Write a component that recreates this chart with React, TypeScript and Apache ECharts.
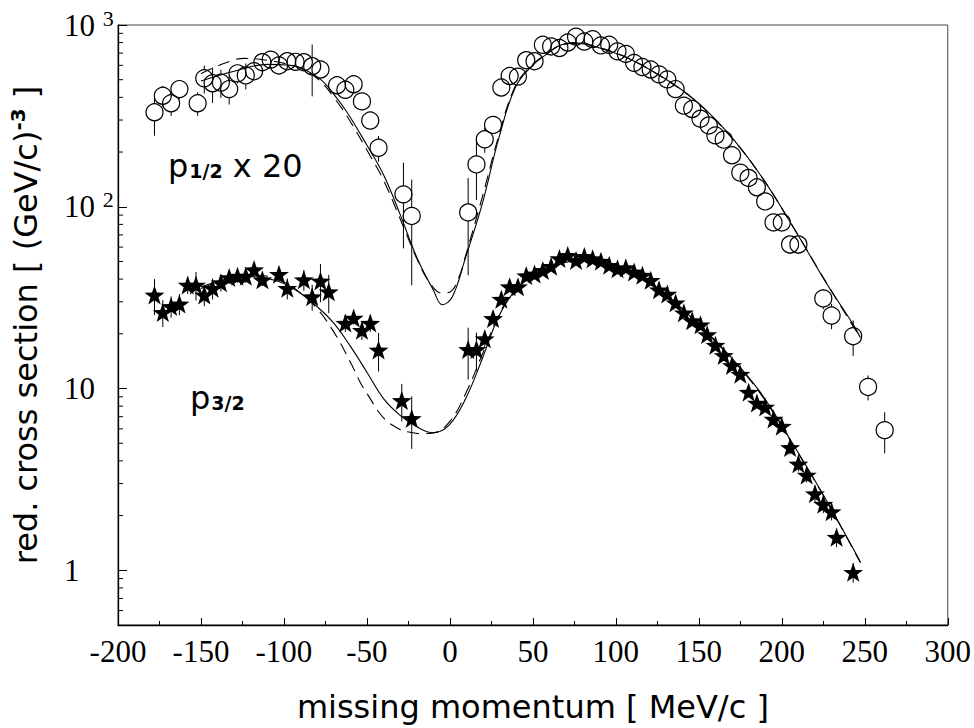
import React, { useEffect, useRef } from "react";
import * as echarts from "echarts";

// ---- p1/2 x 20 data (open circles)
const circX = [-178, -173, -168, -163, -152, -148, -143, -138, -133, -128, -123, -118, -113, -108, -103, -98, -93, -88, -83, -78, -68, -63, -58, -53, -48, -43, -28, -23,
  11, 16, 21, 26, 31, 36, 41, 46, 51, 56, 61, 66, 71, 76, 81, 86, 91, 96, 101, 106, 111, 116, 121, 126, 131, 136, 141, 146, 151, 156, 160, 165, 170, 175, 180, 185, 190, 195, 200, 205, 210, 225, 230, 243, 252, 262];
const circY = [331, 408, 371, 444, 371, 509, 478, 482, 444, 542, 528, 557, 624, 645, 599, 632, 627, 624, 593, 569, 466, 440, 472, 380, 298, 211, 117, 89,
  93, 171, 235, 282, 453, 524, 520, 640, 632, 778, 762, 747, 801, 863, 811, 836, 772, 778, 716, 693, 619, 587, 569, 535, 502, 444, 360, 345, 305, 280, 247, 234, 192, 154, 144, 128, 107, 82, 82, 62, 62, 31.3, 25.2, 19.4, 10.2, 5.9];
const circE = [85, 54, 55, 53, 55, 90, 106, 85, 79, 64, 86, 58, 74, 59, 63, 49, 49, 49, 188, 52, 49, 46, 37, 30, 31, 34, 58, 52,
  51, 62, 37, 30, 36, 40, 40, 45, 45, 50, 50, 50, 50, 50, 50, 50, 45, 45, 42, 40, 36, 34, 33, 30, 30, 26, 22, 21, 19, 18, 16, 15, 13, 11, 10, 9, 8, 9, 9, 7, 7, 4, 4, 4.3, 1.6, 1.5];

// ---- p3/2 data (stars)
const starX = [-178, -173, -168, -163, -158, -153, -148, -143, -138, -133, -128, -123, -118, -113, -103, -98, -88, -83, -78, -73, -63, -58, -53, -48, -43, -29, -23,
  11, 16, 21, 26, 31, 36, 41, 46, 51, 56, 61, 66, 71, 76, 81, 86, 91, 96, 101, 106, 111, 116, 121, 126, 131, 136, 141, 146, 151, 155, 160, 165, 170, 175, 180, 185, 190, 195, 200, 205, 210, 215, 220, 225, 230, 233, 243];
const starY = [32.7, 26.2, 28.3, 29.2, 37.1, 37.1, 32.7, 35.6, 38.2, 40.8, 41.5, 41.5, 45.1, 39.7, 42.5, 35.6, 39.7, 32.0, 39.1, 34.1, 22.9, 24.4, 20.9, 22.9, 16.3, 8.6, 6.85,
  16.4, 16.4, 18.8, 24.3, 31.0, 36.3, 36.3, 41.8, 42.7, 44.6, 47.0, 51.9, 54.0, 50.7, 53.3, 51.8, 50.2, 47.6, 45.6, 46.2, 43.8, 42.0, 39.4, 34.9, 33.1, 29.6, 26.1, 23.6, 22.4, 19.8, 17.3, 15.2, 13.4, 12.0, 9.55, 8.32, 7.91, 6.79, 6.21, 4.74, 3.85, 3.34, 2.64, 2.31, 2.10, 1.52, 0.975];
const starE = [7.3, 4.4, 3.8, 3.9, 3.9, 6.6, 4.3, 4.7, 4.0, 3.2, 3.3, 3.3, 3.5, 3.1, 3.4, 4.7, 5.2, 5.2, 9.3, 8.1, 2.4, 1.9, 2.4, 2.4, 3.9, 2.0, 2.2,
  5.2, 3.9, 2.0, 1.5, 1.8, 2, 2, 2.2, 2.2, 2.3, 2.4, 2.6, 2.7, 2.6, 2.7, 2.6, 2.5, 2.4, 2.3, 2.3, 2.2, 2.1, 2, 1.8, 1.7, 1.6, 1.4, 1.3, 1.2, 1.1, 1, 0.9, 0.8, 0.75, 0.6, 0.55, 0.5, 0.45, 0.45, 0.4, 0.35, 0.3, 0.28, 0.25, 0.22, 0.18, 0.12];

// ---- theory curves
const p12SolidX = [-150, -130, -110, -98, -90, -78, -70, -62, -50, -40, -30, -20, -10, -4.5, 1.5, 9.5, 19.4, 29.4, 39.4, 49.3, 59.3, 67.2, 77.2, 87.2, 107, 127, 147, 167, 187, 207, 227, 242.5, 247.4];
const p12SolidY = [492, 557, 607, 602, 582, 502, 417, 331, 218, 150, 90.8, 52.8, 34.8, 28.9, 32, 52.8, 103, 237, 453, 593, 702, 778, 795, 762, 659, 524, 391, 258, 150, 76.9, 37.8, 22.9, 19.0];
const p12DashX = [-150, -135, -124, -110, -98, -90, -78, -70, -62, -50, -40, -30, -20, -12, -5, 0, 5, 10, 19.4, 29.4, 39.4, 49.3, 59.3, 67.2, 77.2, 87.2, 107, 127, 147, 167, 187, 207, 227, 247.4];
const p12DashY = [540, 620, 655, 640, 610, 580, 490, 400, 315, 205, 140, 86, 52, 38, 33.5, 34, 40, 56, 112, 245, 460, 600, 705, 780, 800, 765, 660, 522, 388, 256, 150, 77, 38, 19];
const p32SolidX = [-150, -130, -116, -110, -100, -90, -80, -70, -60, -50, -40, -30, -20, -10, -0.5, 9.5, 19.4, 29.4, 39.4, 49.3, 59.3, 67.2, 77.2, 83.2, 107, 127, 147, 167, 187, 207, 227, 247.4];
const p32SolidY = [36.3, 40.7, 41.5, 40.3, 37.8, 33.4, 28.2, 22.9, 17.1, 12.3, 8.8, 7.12, 6.16, 5.71, 6.29, 8.8, 14.5, 24.9, 34.8, 41.1, 45.6, 50.7, 51.8, 50.7, 44.8, 34.8, 23.9, 15.7, 9.55, 4.9, 2.41, 1.11];
const p32DashX = [-150, -130, -116, -100, -90, -80, -70, -60, -54, -50, -40, -30, -24, -18, -10, 0, 10, 20, 30, 40, 50, 60, 70, 80, 90, 107, 127, 147, 167, 187, 207, 227, 247.4];
const p32DashY = [35.5, 41, 42, 38.5, 33.5, 27.5, 20.5, 14, 10.8, 9.4, 6.9, 5.95, 5.75, 5.65, 5.7, 6.6, 9.6, 15.8, 26, 35.5, 41.5, 46, 49.5, 50.5, 50, 44.5, 34.5, 23.6, 15.5, 9.4, 4.85, 2.4, 1.1];

// ---- axes
const xMin = -200, xMax = 300, xStep = 50;
const yMin = 0.5, yMax = 1000;
const yDecadeLabels: Record<number, string> = { 0: "1", 1: "10", 2: "10 {sup|2}", 3: "10 {sup|3}" };
const yMinorTicks = [0.6, 0.7, 0.8, 0.9, 2, 3, 4, 5, 6, 7, 8, 9, 20, 30, 40, 50, 60, 70, 80, 90, 200, 300, 400, 500, 600, 700, 800, 900];
const xTitle = "missing momentum [ MeV/c ]";
const yTitle = "red. cross section [ (GeV/c){sup|-3} ]";

const STAR = "path://M0,-10L2.35,-3.24L9.51,-3.09L3.8,1.24L5.88,8.09L0,4L-5.88,8.09L-3.8,1.24L-9.51,-3.09L-2.35,-3.24Z";
const SANS = "DejaVu Sans";
const SERIF = "Liberation Serif";

const zip = (a: number[], b: number[]) => a.map((v, i) => [v, b[i]]);
const zip3 = (a: number[], b: number[], c: number[]) => a.map((v, i) => [v, b[i], c[i]]);

function errBar(gap: number) {
  return (params: any, api: any) => {
    const x = api.value(0), y = api.value(1), e = api.value(2);
    const c = api.coord([x, y]);
    const t = api.coord([x, y + e]);
    const b = api.coord([x, Math.max(y - e, yMin)]);
    const children: any[] = [];
    const st = { stroke: "#000", lineWidth: 1 };
    if (t[1] < c[1] - gap) children.push({ type: "line", shape: { x1: c[0], y1: t[1], x2: c[0], y2: c[1] - gap }, style: st });
    if (b[1] > c[1] + gap) children.push({ type: "line", shape: { x1: c[0], y1: c[1] + gap, x2: c[0], y2: b[1] }, style: st });
    return { type: "group", children };
  };
}

export default function App() {
  const ref = useRef<HTMLDivElement>(null);
  useEffect(() => {
    const chart = echarts.init(ref.current!, null, { renderer: "svg" });
    const lineBase = { type: "line", showSymbol: false, symbol: "none", smooth: 0.4, silent: true, z: 3 };
    const subRich = { s: { fontFamily: SANS, fontSize: 19, fontWeight: "bold", fill: "#000", padding: [9, 0, 0, 1] } };
    chart.setOption({
      animation: false,
      backgroundColor: "#fff",
      grid: { left: 116, right: 21, top: 25, bottom: 97, show: true, borderColor: "#444", borderWidth: 1 },
      xAxis: {
        type: "value", min: xMin, max: xMax, interval: xStep,
        axisLine: { show: true, onZero: false, lineStyle: { color: "#000", width: 1.3 } },
        axisTick: { show: true, inside: true, length: 7, lineStyle: { color: "#000" } },
        minorTick: { show: true, splitNumber: 2, length: 4, lineStyle: { color: "#000" } },
        splitLine: { show: false },
        axisLabel: { fontFamily: SERIF, fontSize: 31, color: "#000", margin: 11 },
        name: xTitle, nameLocation: "middle", nameGap: 66,
        nameTextStyle: { fontFamily: SANS, fontSize: 32, color: "#000" },
      },
      yAxis: {
        type: "log", logBase: 10, min: yMin, max: yMax,
        axisLine: { show: true, onZero: false, lineStyle: { color: "#000", width: 1.3 } },
        axisTick: { show: true, inside: true, length: 9, lineStyle: { color: "#000" } },
        splitLine: { show: false },
        axisLabel: {
          align: "left", margin: 54, color: "#000", fontFamily: SERIF, fontSize: 31,
          showMinLabel: false,
          formatter: (v: number) => {
            const k = Math.round(Math.log10(v));
            if (Math.abs(Math.log10(v) - k) > 1e-6) return "";
            return yDecadeLabels[k] ?? "";
          },
          rich: { sup: { fontFamily: SERIF, fontSize: 22, color: "#000", padding: [0, 0, 14, 0] } },
        },
        name: yTitle, nameLocation: "middle", nameGap: 74,
        nameTextStyle: {
          fontFamily: SANS, fontSize: 32, color: "#000",
          rich: { sup: { fontFamily: SANS, fontSize: 20, fontWeight: "bold", color: "#000", padding: [0, 0, 16, 0] } },
        },
      },
      series: [
        {
          type: "custom", silent: true, z: 1,
          renderItem: (params: any, api: any) => {
            const p = api.coord([xMin, api.value(1)]);
            return { type: "line", shape: { x1: p[0], y1: p[1], x2: p[0] + 5, y2: p[1] }, style: { stroke: "#000", lineWidth: 1 } };
          },
          data: yMinorTicks.map((v) => [xMin, v]),
        },
        { ...lineBase, data: zip(p12SolidX, p12SolidY), lineStyle: { color: "#000", width: 1.1 } },
        { ...lineBase, data: zip(p12DashX, p12DashY), lineStyle: { color: "#000", width: 1.1, type: [12, 7] } },
        { ...lineBase, data: zip(p32SolidX, p32SolidY), lineStyle: { color: "#000", width: 1.1 } },
        { ...lineBase, data: zip(p32DashX, p32DashY), lineStyle: { color: "#000", width: 1.1, type: [12, 7] } },
        { type: "custom", silent: true, z: 4, renderItem: errBar(8.5), data: zip3(circX, circY, circE) },
        { type: "custom", silent: true, z: 4, renderItem: errBar(0), data: zip3(starX, starY, starE) },
        {
          type: "scatter", silent: true, z: 5, symbol: "circle", symbolSize: 17,
          itemStyle: { color: "rgba(0,0,0,0)", borderColor: "#000", borderWidth: 1.2, opacity: 1 },
          data: zip(circX, circY),
        },
        {
          type: "scatter", silent: true, z: 5, symbol: STAR, symbolSize: [20, 19],
          itemStyle: { color: "#000", opacity: 1 },
          data: zip(starX, starY),
        },
      ],
      graphic: [
        {
          type: "text", left: 168, top: 150,
          style: { text: "p{s|1/2} x 20", fill: "#000", font: `32px '${SANS}'`, rich: subRich },
        },
        {
          type: "text", left: 190, top: 382,
          style: { text: "p{s|3/2}", fill: "#000", font: `32px '${SANS}'`, rich: subRich },
        },
      ],
    });
    return () => chart.dispose();
  }, []);
  return <div ref={ref} style={{ position: "absolute", left: 0, top: 0, width: 974, height: 728 }} />;
}
